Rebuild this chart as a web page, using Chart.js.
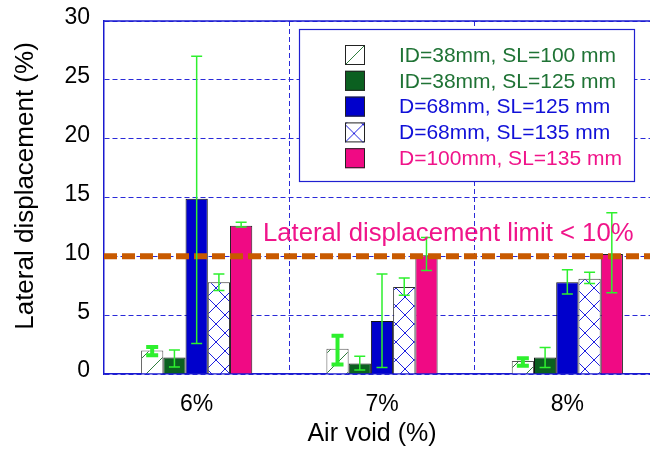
<!DOCTYPE html>
<html>
<head>
<meta charset="utf-8">
<script src="https://cdn.jsdelivr.net/npm/chart.js@4.4.1/dist/chart.umd.min.js"></script>
<style>
html, body { margin: 0; padding: 0; background: #fff; overflow: hidden; }
canvas { display: block; }
</style>
</head>
<body>
<canvas id="chart" width="664" height="449"></canvas>
<script>
// data
var categories = ['6%', '7%', '8%'];
var seriesNames = ['ID=38mm, SL=100 mm', 'ID=38mm, SL=125 mm', 'D=68mm, SL=125 mm', 'D=68mm, SL=135 mm', 'D=100mm, SL=135 mm'];

var id38_sl100 = [2.0, 2.15, 1.1];
var id38_sl100_low = [1.6, 0.8, 0.7];
var id38_sl100_high = [2.3, 3.25, 1.33];

var id38_sl125 = [1.4, 0.9, 1.4];
var id38_sl125_low = [0.6, 0.35, 0.55];
var id38_sl125_high = [2.05, 1.5, 2.25];

var d68_sl125 = [14.9, 4.5, 7.8];
var d68_sl125_low = [2.6, 0.55, 6.8];
var d68_sl125_high = [27.0, 8.5, 8.85];

var d68_sl135 = [7.8, 7.4, 8.1];
var d68_sl135_low = [7.1, 6.7, 7.7];
var d68_sl135_high = [8.5, 8.15, 8.65];

var d100_sl135 = [12.6, 10.1, 10.2];
var d100_sl135_low = [12.5, 8.8, 6.9];
var d100_sl135_high = [12.9, 11.6, 13.7];

var yMin = 0, yMax = 30, yStep = 5;
var limitValue = 10;
var limitLabel = 'Lateral displacement limit < 10%';
var yTitle = 'Lateral displacement (%)';
var xTitle = 'Air void (%)';

var FONT = "'Liberation Sans', Arial, sans-serif";
var canvas = document.getElementById('chart');
var mainCtx = canvas.getContext('2d');

function makePattern(color, size, cross){
    var c = document.createElement('canvas');
    c.width = size; c.height = size;
    var g = c.getContext('2d');
    g.fillStyle = '#ffffff';
    g.fillRect(0, 0, size, size);
    g.strokeStyle = color;
    g.lineWidth = 1;
    g.beginPath();
    g.moveTo(-1, size + 1); g.lineTo(size + 1, -1);
    if(cross){
        g.moveTo(-1, -1); g.lineTo(size + 1, size + 1);
    }
    g.stroke();
    return mainCtx.createPattern(c, 'repeat');
}

var hatchGreen = makePattern('#2e7d3c', 20, false);
var crossBlue = makePattern('#2020e0', 18, true);

var datasets = [
    { label: seriesNames[0], data: id38_sl100, errLow: id38_sl100_low, errHigh: id38_sl100_high,
      backgroundColor: hatchGreen, borderColor: '#555555', textColor: '#1f7335', errWidth: 4, capW: 12 },
    { label: seriesNames[1], data: id38_sl125, errLow: id38_sl125_low, errHigh: id38_sl125_high,
      backgroundColor: '#0b6020', borderColor: '#111111', textColor: '#1f7335', errWidth: 1.5, capW: 11 },
    { label: seriesNames[2], data: d68_sl125, errLow: d68_sl125_low, errHigh: d68_sl125_high,
      backgroundColor: '#0000cc', borderColor: '#111111', textColor: '#1010d8', errWidth: 1.5, capW: 11 },
    { label: seriesNames[3], data: d68_sl135, errLow: d68_sl135_low, errHigh: d68_sl135_high,
      backgroundColor: crossBlue, borderColor: '#333333', textColor: '#1010d8', errWidth: 1.5, capW: 11 },
    { label: seriesNames[4], data: d100_sl135, errLow: d100_sl135_low, errHigh: d100_sl135_high,
      backgroundColor: '#f00a84', borderColor: '#222222', textColor: '#f0148a', errWidth: 1.5, capW: 11 }
];
datasets.forEach(function(ds){
    ds.borderWidth = 1;
    ds.categoryPercentage = 0.6;
    ds.barPercentage = 1.0;
});

// limit line, error bars, limit text, axis titles
var overlays = {
    id: 'overlays',
    afterDatasetsDraw: function(chart){
        var ctx = chart.ctx, area = chart.chartArea, ys = chart.scales.y;
        ctx.save();

        var ly = ys.getPixelForValue(limitValue);
        ctx.strokeStyle = '#c85a00';
        ctx.lineWidth = 6;
        ctx.setLineDash([13, 5]);
        ctx.beginPath();
        ctx.moveTo(area.left, ly);
        ctx.lineTo(area.right, ly);
        ctx.stroke();
        ctx.setLineDash([]);

        chart.data.datasets.forEach(function(ds, i){
            var meta = chart.getDatasetMeta(i);
            meta.data.forEach(function(bar, j){
                var yl = ys.getPixelForValue(ds.errLow[j]);
                var yh = ys.getPixelForValue(ds.errHigh[j]);
                ctx.strokeStyle = '#2ef02e';
                ctx.lineWidth = ds.errWidth;
                ctx.beginPath();
                ctx.moveTo(bar.x, yl); ctx.lineTo(bar.x, yh);
                ctx.moveTo(bar.x - ds.capW / 2, yl); ctx.lineTo(bar.x + ds.capW / 2, yl);
                ctx.moveTo(bar.x - ds.capW / 2, yh); ctx.lineTo(bar.x + ds.capW / 2, yh);
                ctx.stroke();
            });
        });

        ctx.fillStyle = '#f0148a';
        ctx.font = '25.7px ' + FONT;
        ctx.textAlign = 'left';
        ctx.textBaseline = 'alphabetic';
        ctx.fillText(limitLabel, area.left + 159, ly - 15);

        // top frame line
        ctx.strokeStyle = '#1a1ad0';
        ctx.lineWidth = 1.5;
        ctx.beginPath();
        ctx.moveTo(area.left, area.top);
        ctx.lineTo(area.right, area.top);
        ctx.stroke();

        // axis titles
        ctx.fillStyle = '#000';
        ctx.textAlign = 'center';
        ctx.textBaseline = 'middle';
        ctx.font = '25px ' + FONT;
        ctx.fillText(xTitle, area.left + 268, area.bottom + 60);
        ctx.translate(26, area.top + 165);
        ctx.rotate(-Math.PI / 2);
        ctx.font = '26px ' + FONT;
        ctx.fillText(yTitle, 0, 0);
        ctx.restore();
    }
};

// boxed legend inside the plot
var boxLegend = {
    id: 'boxLegend',
    afterDraw: function(chart){
        var ctx = chart.ctx, area = chart.chartArea;
        var bx = area.left + 195, by = area.top + 8, bw = 335, bh = 152;
        ctx.save();
        ctx.fillStyle = '#ffffff';
        ctx.fillRect(bx, by, bw, bh);
        ctx.strokeStyle = '#2020d0';
        ctx.lineWidth = 1.2;
        ctx.strokeRect(bx + 0.5, by + 0.5, bw, bh);

        ctx.font = '21px ' + FONT;
        ctx.textBaseline = 'middle';
        ctx.textAlign = 'left';
        chart.data.datasets.forEach(function(ds, i){
            var cy = by + 26 + i * 25.8;
            var sx = bx + 46, sy = cy - 10;
            var bg = ds.backgroundColor;
            if(bg instanceof CanvasPattern){
                bg.setTransform(new DOMMatrix().translate(sx, sy + (i === 0 ? 0 : 2)));
            }
            ctx.fillStyle = bg;
            ctx.fillRect(sx, sy, 20, 20);
            if(bg instanceof CanvasPattern){
                bg.setTransform(new DOMMatrix());
            }
            ctx.strokeStyle = '#222222';
            ctx.lineWidth = 1;
            ctx.strokeRect(sx + 0.5, sy + 0.5, 19, 19);
            ctx.fillStyle = ds.textColor;
            ctx.fillText(ds.label, bx + 100, cy + 1);
        });
        ctx.restore();
    }
};

new Chart(canvas, {
    type: 'bar',
    data: { labels: categories, datasets: datasets },
    options: {
        responsive: false,
        animation: false,
        devicePixelRatio: 1,
        layout: { padding: { left: 0, top: 21, right: 4, bottom: 0 } },
        plugins: {
            legend: { display: false },
            tooltip: { enabled: false }
        },
        scales: {
            x: {
                grid: { color: '#2a2ad8', lineWidth: 1, drawTicks: false, offset: true },
                border: { color: '#1a1ad0', width: 1.5, dash: [5, 3] },
                ticks: { color: '#000', font: { family: FONT, size: 23 }, padding: 17 },
                afterFit: function(scale){
                    scale.height = 75;
                    scale.paddingLeft = 0;
                    scale.paddingRight = 0;
                }
            },
            y: {
                min: yMin, max: yMax,
                grid: { color: '#2a2ad8', lineWidth: 1, drawTicks: false },
                border: { color: '#1a1ad0', width: 1.5, dash: [5, 3] },
                ticks: { stepSize: yStep, color: '#000', font: { family: FONT, size: 23 }, padding: 14, labelOffset: -3 },
                afterFit: function(scale){
                    scale.width = 104;
                    scale.paddingTop = 0;
                    scale.paddingBottom = 0;
                }
            }
        }
    },
    plugins: [overlays, boxLegend]
});
</script>
</body>
</html>
